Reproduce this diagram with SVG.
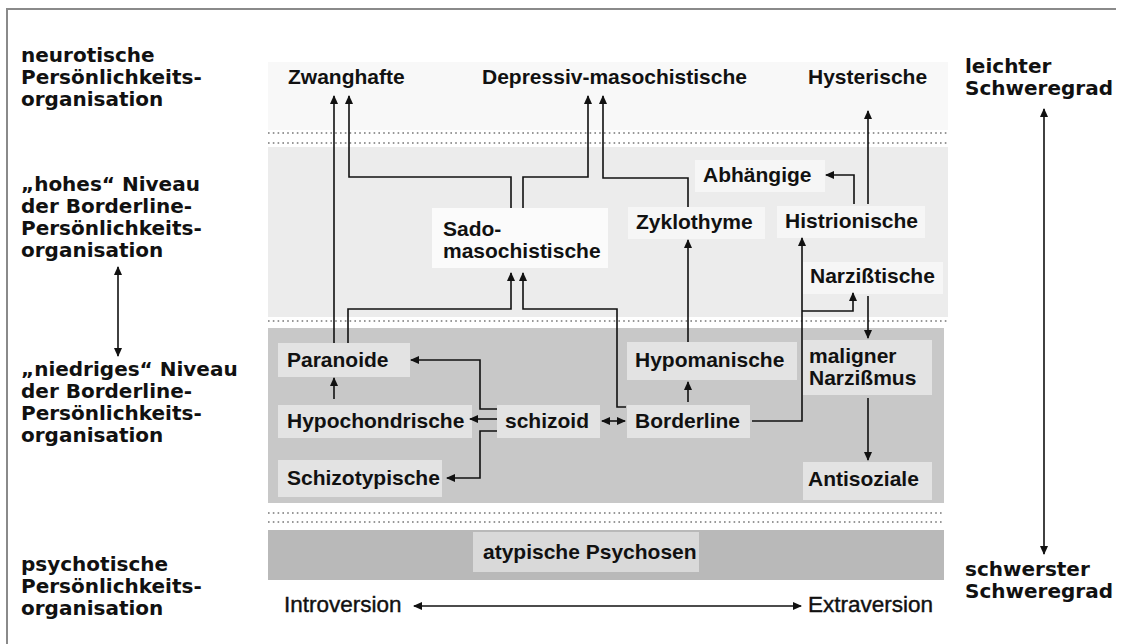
<svg xmlns="http://www.w3.org/2000/svg" width="1123" height="644" viewBox="0 0 1123 644">
<style>
.lbl{font-family:"DejaVu Sans","Liberation Sans",sans-serif;font-weight:bold;font-size:20px;fill:#111}
.nd{font-family:"Liberation Sans",Arial,sans-serif;font-weight:bold;font-size:21px;fill:#111}
.ax{font-family:"Liberation Sans",Arial,sans-serif;font-size:22.5px;fill:#111;stroke:#111;stroke-width:0.4}
.c{fill:none;stroke:#111;stroke-width:1.6}
.dot{stroke:#777;stroke-width:1.6;stroke-dasharray:1.6 3.2}
.bxC{fill:#e3e3e3}
.bxB{fill:#f6f6f6}
</style>
<defs>
<marker id="ah" markerWidth="9" markerHeight="8" refX="8" refY="4" orient="auto-start-reverse" markerUnits="userSpaceOnUse">
<path d="M0,0 L9,4 L0,8 Z" fill="#111"/>
</marker>
</defs>
<rect x="0" y="0" width="1123" height="644" fill="#ffffff"/>
<path d="M7,644 V9 H1116" fill="none" stroke="#8a8a8a" stroke-width="2"/>

<g id="panels">
<rect x="268" y="62" width="680" height="68" fill="#f8f8f8"/>
<line class="dot" x1="268" y1="133" x2="948" y2="133"/>
<line class="dot" x1="268" y1="143" x2="948" y2="143"/>
<rect x="268" y="147" width="680" height="170" fill="#ececec"/>
<line class="dot" x1="268" y1="321" x2="948" y2="321"/>
<rect x="268" y="328" width="676" height="175" fill="#c8c8c8"/>
<line class="dot" x1="268" y1="513" x2="944" y2="513"/>
<line class="dot" x1="268" y1="522" x2="944" y2="522"/>
<rect x="268" y="530" width="676" height="50" fill="#b9b9b9"/>
</g>

<g id="levels">
<text class="lbl" x="21" y="62">neurotische</text>
<text class="lbl" x="21" y="84">Persönlichkeits-</text>
<text class="lbl" x="21" y="106">organisation</text>
<text class="lbl" x="21" y="191">„hohes“ Niveau</text>
<text class="lbl" x="21" y="213">der Borderline-</text>
<text class="lbl" x="21" y="235">Persönlichkeits-</text>
<text class="lbl" x="21" y="257">organisation</text>
<text class="lbl" x="21" y="376">„niedriges“ Niveau</text>
<text class="lbl" x="21" y="398">der Borderline-</text>
<text class="lbl" x="21" y="420">Persönlichkeits-</text>
<text class="lbl" x="21" y="442">organisation</text>
<text class="lbl" x="21" y="571">psychotische</text>
<text class="lbl" x="21" y="593">Persönlichkeits-</text>
<text class="lbl" x="21" y="615">organisation</text>
<text class="lbl" x="965" y="73">leichter</text>
<text class="lbl" x="965" y="95">Schweregrad</text>
<text class="lbl" x="965" y="576">schwerster</text>
<text class="lbl" x="965" y="598">Schweregrad</text>
</g>

<g id="zwanghafte"><text class="nd" x="288" y="84">Zwanghafte</text></g>
<g id="depressiv"><text class="nd" x="482" y="84">Depressiv-masochistische</text></g>
<g id="hysterische"><text class="nd" x="808" y="84">Hysterische</text></g>
<g id="abhaengige"><rect class="bxB" x="695" y="160" width="130" height="32"/><text class="nd" x="703" y="182">Abhängige</text></g>
<g id="sado"><rect x="432" y="208" width="176" height="60" fill="#fbfbfb"/><text class="nd" x="443" y="236">Sado-</text><text class="nd" x="443" y="258">masochistische</text></g>
<g id="zyklothyme"><rect class="bxB" x="628" y="207" width="137" height="32"/><text class="nd" x="636" y="229">Zyklothyme</text></g>
<g id="histrionische"><rect class="bxB" x="777" y="206" width="148" height="32"/><text class="nd" x="785" y="228">Histrionische</text></g>
<g id="narzisstische"><rect class="bxB" x="803" y="262" width="140" height="32"/><text class="nd" x="810" y="283">Narzißtische</text></g>
<g id="paranoide"><rect class="bxC" x="278" y="343" width="132" height="34"/><text class="nd" x="287" y="367">Paranoide</text></g>
<g id="hypochondrische"><rect class="bxC" x="278" y="405" width="194" height="33"/><text class="nd" x="287" y="428">Hypochondrische</text></g>
<g id="schizoid"><rect class="bxC" x="497" y="405" width="103" height="33"/><text class="nd" x="505" y="428">schizoid</text></g>
<g id="schizotypische"><rect class="bxC" x="278" y="460" width="164" height="37"/><text class="nd" x="287" y="485">Schizotypische</text></g>
<g id="borderline"><rect class="bxC" x="627" y="405" width="123" height="33"/><text class="nd" x="635" y="428">Borderline</text></g>
<g id="hypomanische"><rect class="bxC" x="627" y="342" width="170" height="38"/><text class="nd" x="635" y="367">Hypomanische</text></g>
<g id="maligner"><rect class="bxC" x="803" y="340" width="129" height="55"/><text class="nd" x="809" y="363">maligner</text><text class="nd" x="809" y="385">Narzißmus</text></g>
<g id="antisoziale"><rect class="bxC" x="803" y="462" width="129" height="38"/><text class="nd" x="808" y="486">Antisoziale</text></g>
<g id="psychosen"><rect x="473" y="532" width="226" height="40" fill="#d9d9d9"/><text class="nd" x="483" y="559">atypische Psychosen</text></g>
<g id="introversion"><text class="ax" x="284" y="612">Introversion</text></g>
<g id="extraversion"><text class="ax" x="808" y="612">Extraversion</text></g>

<g id="connectors">
<path class="c" d="M334,343 V96" marker-end="url(#ah)"/>
<path class="c" d="M511,208 V177 H349 V96" marker-end="url(#ah)"/>
<path class="c" d="M523,208 V177 H588 V96" marker-end="url(#ah)"/>
<path class="c" d="M688,207 V178 H603 V96" marker-end="url(#ah)"/>
<path class="c" d="M868,204 V111" marker-end="url(#ah)"/>
<path class="c" d="M854,204 V175 H826" marker-end="url(#ah)"/>
<path class="c" d="M348,343 V309 H511 V273" marker-end="url(#ah)"/>
<path class="c" d="M626,407 H617 V309 H523 V273" marker-end="url(#ah)"/>
<path class="c" d="M688,342 V240" marker-end="url(#ah)"/>
<path class="c" d="M688,402 V382" marker-end="url(#ah)"/>
<path class="c" d="M752,421 H802 V238" marker-end="url(#ah)"/>
<path class="c" d="M802,311 H853 V293" marker-end="url(#ah)"/>
<path class="c" d="M868,296 V338" marker-end="url(#ah)"/>
<path class="c" d="M868,398 V460" marker-end="url(#ah)"/>
<path class="c" d="M497,409 H480 V360 H411" marker-end="url(#ah)"/>
<path class="c" d="M497,419 H470" marker-end="url(#ah)"/>
<path class="c" d="M497,431 H480 V478 H447" marker-end="url(#ah)"/>
<path class="c" d="M602,421 H625" marker-start="url(#ah)" marker-end="url(#ah)"/>
<path class="c" d="M334,399 V378" marker-end="url(#ah)"/>
<path class="c" d="M414,606 H801" marker-start="url(#ah)" marker-end="url(#ah)"/>
<path class="c" d="M118,267 V356" marker-start="url(#ah)" marker-end="url(#ah)"/>
<path class="c" d="M1044,109 V554" marker-start="url(#ah)" marker-end="url(#ah)"/>
</g>
</svg>
